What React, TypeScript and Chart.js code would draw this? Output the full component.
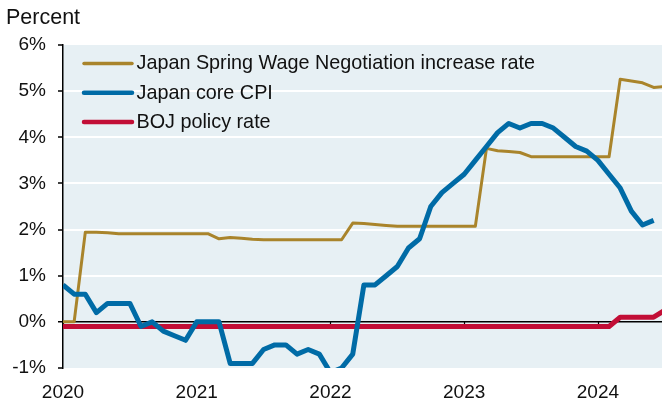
import React, { useEffect, useRef } from "react";
import { Chart, registerables } from "chart.js";

Chart.register(...registerables);

const months = [
  "2020-01","2020-02","2020-03","2020-04","2020-05","2020-06","2020-07","2020-08","2020-09","2020-10","2020-11","2020-12",
  "2021-01","2021-02","2021-03","2021-04","2021-05","2021-06","2021-07","2021-08","2021-09","2021-10","2021-11","2021-12",
  "2022-01","2022-02","2022-03","2022-04","2022-05","2022-06","2022-07","2022-08","2022-09","2022-10","2022-11","2022-12",
  "2023-01","2023-02","2023-03","2023-04","2023-05","2023-06","2023-07","2023-08","2023-09","2023-10","2023-11","2023-12",
  "2024-01","2024-02","2024-03","2024-04","2024-05","2024-06","2024-07",
];

const wageRate = [
  0, 0, 1.94, 1.94, 1.93, 1.91, 1.91, 1.91, 1.91, 1.91, 1.91, 1.91,
  1.91, 1.91, 1.8, 1.83, 1.81, 1.79, 1.78, 1.78, 1.78, 1.78, 1.78, 1.78,
  1.78, 1.78, 2.14, 2.13, 2.11, 2.09, 2.07, 2.07, 2.07, 2.07, 2.07, 2.07,
  2.07, 2.07, 3.76, 3.71, 3.69, 3.67, 3.58, 3.58, 3.58, 3.58, 3.58, 3.58,
  3.58, 3.58, 5.26, 5.22, 5.18, 5.08, 5.1,
];

const coreCpi = [
  0.8, 0.6, 0.6, 0.2, 0.4, 0.4, 0.4, -0.1, 0.0, -0.2, -0.3, -0.4,
  0.0, 0.0, 0.0, -0.9, -0.9, -0.9, -0.6, -0.5, -0.5, -0.7, -0.6, -0.7,
  -1.1, -1.0, -0.7, 0.8, 0.8, 1.0, 1.2, 1.6, 1.8, 2.5, 2.8, 3.0,
  3.2, 3.5, 3.8, 4.1, 4.3, 4.2, 4.3, 4.3, 4.2, 4.0, 3.8, 3.7,
  3.5, 3.2, 2.9, 2.4, 2.1, 2.2, null,
];

const bojRate = [
  -0.1, -0.1, -0.1, -0.1, -0.1, -0.1, -0.1, -0.1, -0.1, -0.1, -0.1, -0.1,
  -0.1, -0.1, -0.1, -0.1, -0.1, -0.1, -0.1, -0.1, -0.1, -0.1, -0.1, -0.1,
  -0.1, -0.1, -0.1, -0.1, -0.1, -0.1, -0.1, -0.1, -0.1, -0.1, -0.1, -0.1,
  -0.1, -0.1, -0.1, -0.1, -0.1, -0.1, -0.1, -0.1, -0.1, -0.1, -0.1, -0.1,
  -0.1, -0.1, 0.1, 0.1, 0.1, 0.1, 0.25,
];

const seriesLabels = [
  "Japan Spring Wage Negotiation increase rate",
  "Japan core CPI",
  "BOJ policy rate",
];
const yearTickIndex = [0, 12, 24, 36, 48];
const yearTickLabels = ["2020", "2021", "2022", "2023", "2024"];
const yTickValues = [-1, 0, 1, 2, 3, 4, 5, 6];
const xAxisMax = 53.75;

const GOLD = "#A9842B";
const BLUE = "#006BA6";
const RED = "#C20E36";
const BG = "#E7F0F4";
const FONT = "'Liberation Sans', Arial, sans-serif";

const toPoints = (vals: (number | null)[]) =>
  vals.map((v, i) => ({ x: i, y: v }));

export default function App() {
  const ref = useRef<HTMLCanvasElement | null>(null);

  useEffect(() => {
    if (!ref.current) return;

    const bgPlugin = {
      id: "plotBg",
      beforeDraw(chart: any) {
        const { ctx, chartArea: a } = chart;
        ctx.save();
        ctx.fillStyle = BG;
        ctx.fillRect(a.left, a.top, a.right - a.left, a.bottom - a.top);
        ctx.restore();
      },
    };

    const zeroTicksPlugin = {
      id: "zeroTicks",
      beforeDatasetsDraw(chart: any) {
        const { ctx, scales } = chart;
        const y0 = scales.y.getPixelForValue(0);
        ctx.save();
        ctx.strokeStyle = "#000";
        ctx.lineWidth = 1.2;
        yearTickIndex.forEach((v) => {
          const x = Math.round(scales.x.getPixelForValue(v)) + 0.5;
          ctx.beginPath();
          ctx.moveTo(x, y0);
          ctx.lineTo(x, y0 + 4);
          ctx.stroke();
        });
        ctx.restore();
      },
    };

    const textPlugin = {
      id: "texts",
      afterDraw(chart: any) {
        const { ctx, chartArea: a } = chart;
        ctx.save();
        ctx.fillStyle = "#111";
        ctx.font = `21.5px ${FONT}`;
        ctx.textBaseline = "alphabetic";
        ctx.textAlign = "left";
        ctx.fillText("Percent", 6, 24);

        const order = [0, 1, 2];
        ctx.font = `19.8px ${FONT}`;
        ctx.textBaseline = "middle";
        order.forEach((di, row) => {
          const ds = chart.data.datasets[di];
          const y = a.top + 18.5 + row * 29.2;
          ctx.strokeStyle = ds.borderColor;
          ctx.lineWidth = di === 0 ? 3.5 : 4.5;
          ctx.lineCap = "round";
          ctx.beginPath();
          ctx.moveTo(a.left + 21, y);
          ctx.lineTo(a.left + 69, y);
          ctx.stroke();
          ctx.fillStyle = "#111";
          ctx.fillText(ds.label, a.left + 73.5, y + 0.5);
        });
        ctx.restore();
      },
    };

    const chart = new Chart(ref.current, {
      type: "line",
      data: {
        labels: months,
        datasets: [
          {
            label: seriesLabels[0],
            data: toPoints(wageRate),
            borderColor: GOLD,
            backgroundColor: GOLD,
            borderWidth: 3,
            pointRadius: 0,
            tension: 0,
            order: 1,
            borderJoinStyle: "round",
          },
          {
            label: seriesLabels[1],
            data: toPoints(coreCpi),
            borderColor: BLUE,
            backgroundColor: BLUE,
            borderWidth: 5,
            pointRadius: 0,
            tension: 0,
            order: 0,
            borderJoinStyle: "round",
          },
          {
            label: seriesLabels[2],
            data: toPoints(bojRate),
            borderColor: RED,
            backgroundColor: RED,
            borderWidth: 5,
            pointRadius: 0,
            tension: 0,
            order: 2,
            borderJoinStyle: "round",
          },
        ],
      },
      options: {
        animation: false,
        responsive: true,
        maintainAspectRatio: false,
        layout: { padding: { top: 45, left: 0, right: 0, bottom: 0 } },
        plugins: {
          legend: { display: false },
          tooltip: { enabled: false },
          title: { display: false },
        },
        scales: {
          x: {
            type: "linear",
            min: 0,
            max: xAxisMax,
            afterBuildTicks: (scale: any) => {
              scale.ticks = yearTickIndex.map((v) => ({ value: v }));
            },
            afterFit: (scale: any) => {
              scale.height = 35;
            },
            grid: { display: false, drawTicks: false },
            border: { display: false },
            ticks: {
              autoSkip: false,
              maxRotation: 0,
              padding: 13,
              color: "#111",
              font: { family: FONT, size: 19 },
              callback: (value: any) => {
                const i = yearTickIndex.indexOf(Number(value));
                return i >= 0 ? yearTickLabels[i] : "";
              },
            },
          },
          y: {
            min: -1,
            max: 6,
            afterBuildTicks: (scale: any) => {
              scale.ticks = yTickValues.map((v) => ({ value: v }));
            },
            afterFit: (scale: any) => {
              scale.width = 63;
            },
            border: { display: true, color: "#000", width: 1.5 },
            grid: {
              drawTicks: true,
              tickLength: 5,
              tickColor: "#000",
              tickWidth: 1.5,
              color: (c: any) => {
                const v = c.tick ? c.tick.value : null;
                if (v === 0) return "#000";
                if (v === -1 || v === 6) return "rgba(0,0,0,0)";
                return "#FFFFFF";
              },
              lineWidth: (c: any) => (c.tick && c.tick.value === 0 ? 1.5 : 2),
            },
            ticks: {
              padding: 12,
              color: "#111",
              font: { family: FONT, size: 19 },
              callback: (value: any) => `${value}%`,
            },
          },
        },
      },
      plugins: [bgPlugin, zeroTicksPlugin, textPlugin],
    } as any);

    return () => chart.destroy();
  }, []);

  return (
    <div style={{ position: "absolute", left: 0, top: 0, width: 662, height: 403 }}>
      <canvas ref={ref} />
    </div>
  );
}
